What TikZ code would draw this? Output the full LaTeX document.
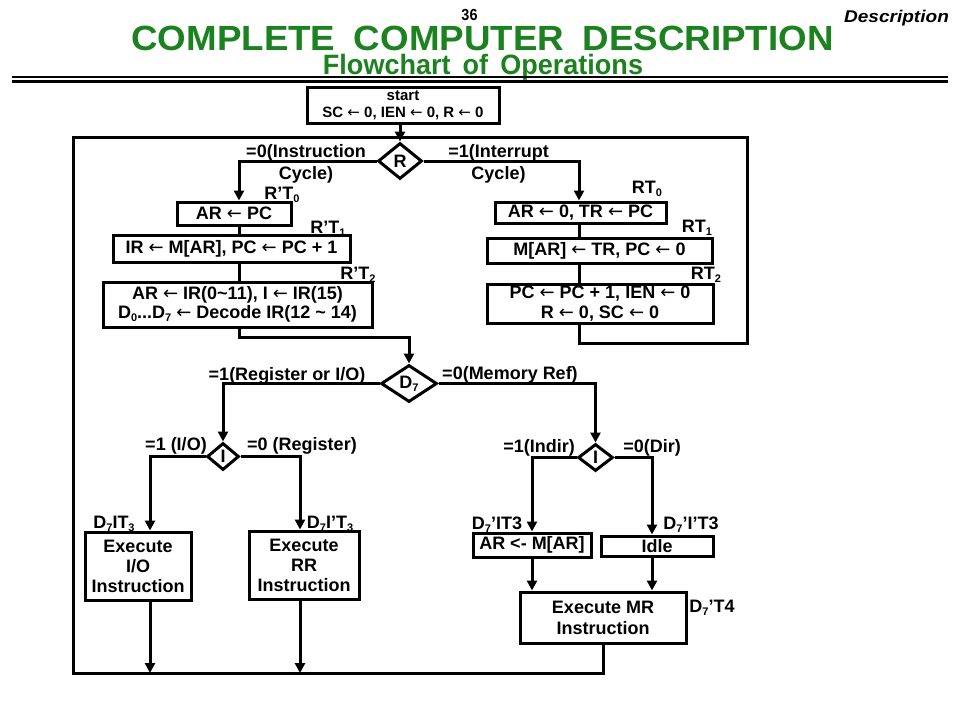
\documentclass[tikz,border=0pt]{standalone}
\usepackage{fontspec}
\setmainfont{Liberation Sans}
\newfontfamily\arrfont{DejaVu Sans}
\usetikzlibrary{shapes.geometric,arrows.meta}
\definecolor{tgreen}{RGB}{28,130,32}
\newcommand\la{{\arrfont\mdseries ←}}
\newcommand\sbs[1]{\raisebox{-0.35ex}{\fontsize{11}{11}\selectfont #1}}
\begin{document}
\begin{tikzpicture}[x=1pt,y=-1pt,line width=3pt,
  every node/.style={font=\fontsize{18}{20}\selectfont\bfseries,inner sep=0pt},
  box/.style={draw,rectangle,align=center,line width=3pt},
  dia/.style={draw,diamond,line width=3pt},
  lbl/.style={anchor=base},
  arr/.style={-{Triangle[length=10pt,width=10pt]}}]
\useasboundingbox[fill=white] (0,0) rectangle (960,720);

% header
\node[anchor=base,text=tgreen,text depth=0pt,font=\fontsize{35}{35}\selectfont\bfseries] (title) at (482.5,50)
  {\scalebox{1.05}[1]{COMPLETE\hspace{0.5em}COMPUTER\hspace{0.5em}DESCRIPTION}};
\node[anchor=base,text=tgreen,font=\fontsize{28}{28}\selectfont\bfseries] (sub) at (483,74)
  {\scalebox{0.965}[1]{Flowchart\hspace{0.45em}of\hspace{0.45em}Operations}};
\node[anchor=base,font=\fontsize{16}{16}\selectfont\bfseries] (pg) at (469.5,20) {\scalebox{0.9}[1]{36}};
\node[anchor=base,font=\fontsize{17}{17}\selectfont\bfseries\itshape] (desc) at (896.5,22) {\scalebox{1.12}[1]{Description}};
\draw[line width=1.2pt] (12,77) -- (948,77);
\draw[line width=3pt] (12,81) -- (948,81);

% coordinates
\coordinate (cL) at (239,0);
\coordinate (cR) at (579,0);
\coordinate (cA) at (150,0);
\coordinate (cB) at (300,0);
\coordinate (cC) at (532,0);
\coordinate (cD) at (652,0);
\coordinate (j1) at (0,337);
\coordinate (lp1) at (747,343);
\coordinate (lp2) at (747,137);
\coordinate (lp3) at (73,137);
\coordinate (lp4) at (73,673);
\coordinate (lpm) at (603,673);

% start and R
\node[box,minimum width=192,minimum height=36,font=\fontsize{15}{17}\selectfont\bfseries] (start) at (403,105)
  {start\\SC \la{} 0, IEN \la{} 0, R \la{} 0};
\node[dia,minimum width=44,minimum height=36,label=center:R] (Rd) at (400,161) {};

% instruction cycle
\node[box,minimum width=114,minimum height=23] (arpc) at (234,213.5) {AR \la{} PC};
\node[box,minimum width=237,minimum height=27] (irm) at (231.5,248.5) {IR \la{} M[AR], PC \la{} PC + 1};
\node[box,minimum width=269,minimum height=45,font=\fontsize{18}{19}\selectfont\bfseries] (dec) at (237.5,304.5)
  {AR \la{} IR(0\textasciitilde11), I \la{} IR(15)\\D\sbs{0}...D\sbs{7} \la{} Decode IR(12 \textasciitilde{} 14)};

% interrupt cycle
\node[box,minimum width=171,minimum height=21] (ar0) at (580.5,212.5) {AR \la{} 0, TR \la{} PC};
\node[box,minimum width=225,minimum height=25] (mar) at (599.5,250.5) {M[AR] \la{} TR, PC \la{} 0};
\node[box,minimum width=226,minimum height=39] (pcinc) at (600,303.5) {PC \la{} PC + 1, IEN \la{} 0\\R \la{} 0, SC \la{} 0};

% decode
\node[dia,minimum width=56,minimum height=37,label=center:{D\sbs{7}}] (D7) at (409,383.5) {};
\node[dia,minimum width=32,minimum height=27,label=center:I] (I1) at (223,456.5) {};
\node[dia,minimum width=35,minimum height=27,label=center:I] (I2) at (595.5,457.5) {};

\node[box,minimum width=106,minimum height=68] (exio) at (138,566) {Execute\\I/O\\Instruction};
\node[box,minimum width=110,minimum height=68] (exrr) at (304,565) {Execute\\RR\\Instruction};
\node[box,minimum width=118,minimum height=24] (armar) at (532,545) {AR <- M[AR]};
\node[box,minimum width=112,minimum height=20] (idle) at (657,546) {Idle};
\node[box,minimum width=166,minimum height=51,font=\fontsize{18}{21}\selectfont\bfseries] (exmr) at (603,617.5) {Execute MR\\Instruction};

% labels
\node[align=center,font=\fontsize{18}{22}\selectfont\bfseries] (l0) at (306,164) {=0(Instruction\\Cycle)};
\node[align=center,font=\fontsize{18}{22}\selectfont\bfseries] (l1) at (498.5,164) {=1(Interrupt\\Cycle)};
\node[lbl] (t0) at (282,199) {R’T\sbs{0}};
\node[lbl] (t1) at (328,233) {R’T\sbs{1}};
\node[lbl] (t2) at (358,279) {R’T\sbs{2}};
\node[lbl] (r0) at (647,193) {RT\sbs{0}};
\node[lbl] (r1) at (697,232) {RT\sbs{1}};
\node[lbl] (r2) at (706,279) {RT\sbs{2}};
\node[lbl] (lreg) at (287,380) {=1(Register or I/O)};
\node[lbl] (lmem) at (510,379) {=0(Memory Ref)};
\node[lbl] (lio) at (176,450) {=1 (I/O)};
\node[lbl] (lrg) at (302,450) {=0 (Register)};
\node[lbl] (lind) at (539,452) {=1(Indir)};
\node[lbl] (ldir) at (652,452) {=0(Dir)};
\node[lbl] (c1) at (114,528) {D\sbs{7}IT\sbs{3}};
\node[lbl] (c2) at (330,528) {D\sbs{7}I’T\sbs{3}};
\node[lbl] (c3) at (497,529) {D\sbs{7}’IT3};
\node[lbl] (c4) at (691,529) {D\sbs{7}’I’T3};
\node[lbl] (c5) at (712,612) {D\sbs{7}’T4};

% connectors
\draw[arr] (start.south -| Rd.north) -- (Rd.north);
\draw[arr] (Rd.west) -| (arpc.north -| cL);
\draw (arpc.south -| cL) -- (irm.north -| cL);
\draw (irm.south -| cL) -- (dec.north -| cL);
\draw[arr] (dec.south -| cL) -- (j1 -| cL) -| (D7.north);
\draw[arr] (Rd.east) -| (ar0.north -| cR);
\draw (ar0.south -| cR) -- (mar.north -| cR);
\draw (mar.south -| cR) -- (pcinc.north -| cR);
\draw (pcinc.south -| cR) |- (lp1) -- (lp2) -- (lp3) -- (lp4) -- (lpm) -- (exmr.south);
\draw[arr] (D7.west) -| (I1.north);
\draw[arr] (D7.east) -| (I2.north);
\draw[arr] (I1.west) -| (exio.north -| cA);
\draw[arr] (I1.east) -| (exrr.north -| cB);
\draw[arr] (exio.south -| cA) -- (lp4 -| cA);
\draw[arr] (exrr.south -| cB) -- (lp4 -| cB);
\draw[arr] (I2.west) -| (armar.north -| cC);
\draw[arr] (I2.east) -| (idle.north -| cD);
\draw[arr] (armar.south -| cC) -- (exmr.north -| cC);
\draw[arr] (idle.south -| cD) -- (exmr.north -| cD);
\end{tikzpicture}
\end{document}
